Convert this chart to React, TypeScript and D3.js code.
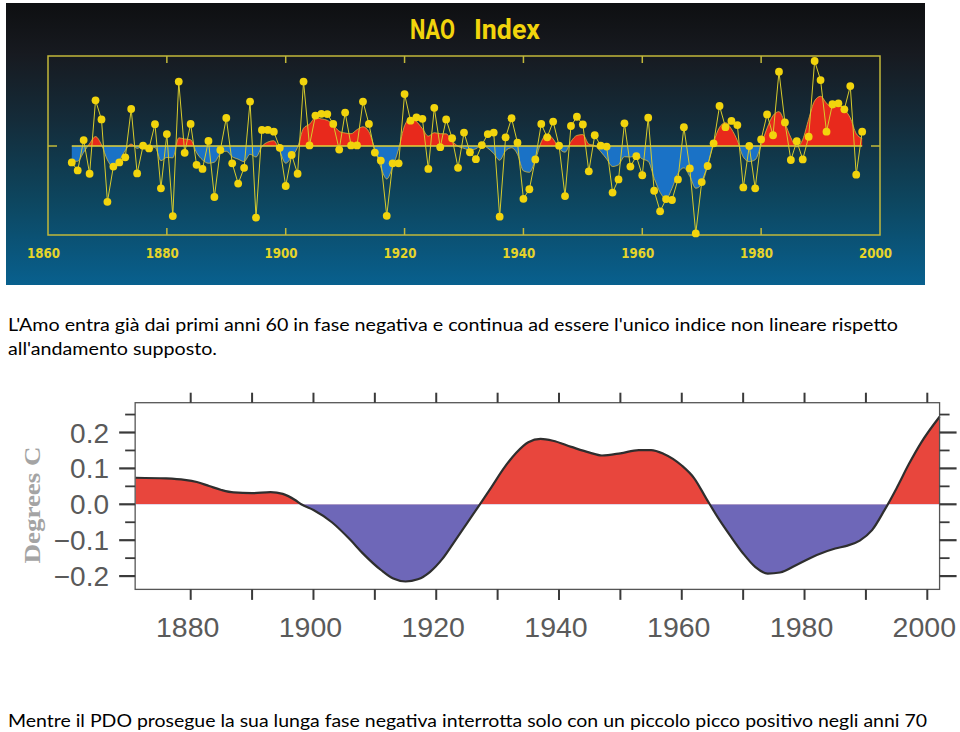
import React from "react";
import * as d3 from "d3";

// ---------- NAO (top panel) ----------
const naoStartYear = 1864;
const naoValues: number[] = [
  -0.55, -0.82, 0.2, -0.93, 1.53, 0.89, -1.87, -0.69, -0.55, -0.38,
  1.24, -0.92, 0.01, -0.08, 0.73, -1.42, 0.4, -2.35, 2.16, -0.23,
  0.74, -0.63, -0.77, 0.17, -1.71, -0.13, 0.94, -0.58, -1.26, -0.73,
  1.49, -2.4, 0.54, 0.54, 0.48, -0.06, -1.34, -0.3, -0.93, 2.16,
  0.02, 1.02, 1.08, 1.07, 0.74, -0.12, 1.12, 0.02, 0.02, 1.49,
  0.74, -0.22, -0.49, -2.34, -0.58, -0.58, 1.74, 0.85, 0.96, 0.91,
  -0.77, 1.28, -0.04, 0.89, 0.26, -0.73, 0.45, -0.21, -0.44, 0.03,
  0.4, 0.45, -2.37, 0.29, 0.93, 0.11, -1.77, -1.45, -0.45, 0.74,
  0.29, 0.82, 0.01, -1.68, 0.67, 0.98, 0.72, -0.85, 0.36, 0.01,
  -0.02, -1.56, -1.12, 0.76, -0.69, -0.34, -0.98, 0.95, -1.5, -2.19,
  -1.78, -1.81, -1.12, 0.63, -0.75, -2.93, -1.21, -0.67, 0.09, 1.34,
  0.63, 0.84, 0.7, -1.39, 0.0, -1.42, 0.22, 1.06, 0.36, 2.49,
  0.79, -0.47, 0.16, -0.45, 0.31, 2.85, 2.21, 0.48, 1.4, 1.43,
  1.23, 2.01, -0.96, 0.48,
];
const naoSmoothWeights = [1, 2, 3, 2, 1];
const naoTickYears = [1860, 1880, 1900, 1920, 1940, 1960, 1980, 2000];
const naoInnerTicks = [1880, 1900, 1920, 1940, 1960, 1980];
const naoTitleWords = ["NAO", "Index"];

// ---------- AMO (bottom panel) ----------
const amoYears = [
  1871, 1876, 1879, 1881, 1883, 1885, 1887, 1890, 1893, 1895, 1897, 1898,
  1900, 1903, 1906, 1908, 1911, 1913, 1915, 1917, 1919, 1921, 1923, 1925,
  1927, 1929, 1931, 1933, 1935, 1937, 1939, 1942, 1945, 1947, 1950, 1953,
  1955, 1957, 1960, 1962, 1964, 1966, 1968, 1970, 1972, 1974, 1976, 1979,
  1982, 1985, 1987, 1989, 1991, 1993, 1995, 1997, 1999, 2002,
];
const amoValues = [
  0.074, 0.072, 0.068, 0.062, 0.051, 0.04, 0.033, 0.031, 0.034, 0.029, 0.012, 0.0,
  -0.016, -0.05, -0.099, -0.136, -0.183, -0.207, -0.215, -0.209, -0.188, -0.152, -0.103, -0.053,
  -0.003, 0.048, 0.1, 0.143, 0.173, 0.182, 0.177, 0.16, 0.144, 0.136, 0.142, 0.151,
  0.151, 0.141, 0.108, 0.073, 0.016, -0.04, -0.09, -0.137, -0.175, -0.193, -0.19, -0.166,
  -0.141, -0.123, -0.115, -0.101, -0.072, -0.017, 0.045, 0.112, 0.172, 0.244,
];
const amoXLabels = [1880, 1900, 1920, 1940, 1960, 1980, 2000];
const amoDecades = [1880, 1890, 1900, 1910, 1920, 1930, 1940, 1950, 1960, 1970, 1980, 1990, 2000];
const amoYMajor = [0.2, 0.1, 0.0, -0.1, -0.2];
const amoYMinor = [0.25, 0.15, 0.05, -0.05, -0.15];
const amoYLabel = "Degrees  C";

// ---------- captions ----------
const captionTop = [
  "L'Amo entra già dai primi anni 60 in fase negativa e continua ad essere l'unico indice non lineare rispetto",
  "all'andamento supposto.",
];
const captionBottom =
  "Mentre il PDO prosegue la sua lunga fase negativa interrotta solo con un piccolo picco positivo negli anni 70";

export default function App() {
  // NAO scales
  const nx = d3.scaleLinear().domain([1860, 2000]).range([48, 880]);
  const ny = d3.scaleLinear().domain([-3, 3]).range([235.5, 56.5]);
  const naoData = naoValues.map((v, i) => ({ year: naoStartYear + i, v }));
  const naoSmooth = naoValues.map((_, i) => {
    let s = 0;
    let w = 0;
    naoSmoothWeights.forEach((wt, k) => {
      const j = i + k - 2;
      if (j >= 0 && j < naoValues.length) {
        s += wt * naoValues[j];
        w += wt;
      }
    });
    return { year: naoStartYear + i, v: s / w };
  });
  const naoArea = d3
    .area<{ year: number; v: number }>()
    .x((d) => nx(d.year))
    .y0(ny(0))
    .y1((d) => ny(d.v))
    .curve(d3.curveMonotoneX);
  const naoSmoothLine = d3
    .line<{ year: number; v: number }>()
    .x((d) => nx(d.year))
    .y((d) => ny(d.v))
    .curve(d3.curveMonotoneX);
  const naoLine = d3
    .line<{ year: number; v: number }>()
    .x((d) => nx(d.year))
    .y((d) => ny(d.v));
  const firstX = nx(naoStartYear);
  const lastX = nx(naoStartYear + naoValues.length - 1);

  // AMO scales
  const ax = d3.scaleLinear().domain([1880, 2000]).range([190.7, 927.3]);
  const ay = d3.scaleLinear().domain([0, 0.1]).range([504.3, 468.4]);
  const aLeft = ax(1870.95);
  const aRight = ax(2002);
  const aTop = ay(0.283);
  const aBottom = ay(-0.237);
  const amoData = amoYears.map((y, i) => ({ year: y, v: amoValues[i] }));
  const amoArea = d3
    .area<{ year: number; v: number }>()
    .x((d) => ax(d.year))
    .y0(ay(0))
    .y1((d) => ay(d.v))
    .curve(d3.curveMonotoneX);
  const amoLine = d3
    .line<{ year: number; v: number }>()
    .x((d) => ax(d.year))
    .y((d) => ay(d.v))
    .curve(d3.curveMonotoneX);

  const yellow = "#f2d40c";
  const frameYellow = "#c2b83a";
  const tickGray = "#3a3a3a";
  const labelGray = "#5a5a5a";

  return (
    <svg
      width={960}
      height={732}
      style={{ position: "absolute", left: 0, top: 0, background: "#fff" }}
    >
      <defs>
        <linearGradient id="naoBg" x1="0" y1="0" x2="0" y2="1">
          <stop offset="0%" stopColor="#0e0f11" />
          <stop offset="18%" stopColor="#171a20" />
          <stop offset="42%" stopColor="#142c3a" />
          <stop offset="70%" stopColor="#0d465f" />
          <stop offset="100%" stopColor="#08608e" />
        </linearGradient>
        <clipPath id="naoAbove">
          <rect x={48} y={56} width={832} height={ny(0) - 56} />
        </clipPath>
        <clipPath id="naoBelow">
          <rect x={48} y={ny(0)} width={832} height={235 - ny(0)} />
        </clipPath>
        <clipPath id="amoAbove">
          <rect x={aLeft} y={aTop} width={aRight - aLeft} height={ay(0) - aTop} />
        </clipPath>
        <clipPath id="amoBelow">
          <rect x={aLeft} y={ay(0)} width={aRight - aLeft} height={aBottom - ay(0)} />
        </clipPath>
      </defs>

      {/* ===== NAO panel ===== */}
      <rect x={6} y={3} width={919} height={282} fill="url(#naoBg)" />
      <text
        x={410}
        y={38.5}
        fill={yellow}
        fontFamily="Roboto, 'DejaVu Sans', sans-serif"
        fontWeight="bold"
        fontSize={27}
        textLength={45}
        lengthAdjust="spacingAndGlyphs"
      >
        {naoTitleWords[0]}
      </text>
      <text
        x={474}
        y={38.5}
        fill={yellow}
        fontFamily="Roboto, 'DejaVu Sans', sans-serif"
        fontWeight="bold"
        fontSize={27}
        textLength={66}
        lengthAdjust="spacingAndGlyphs"
      >
        {naoTitleWords[1]}
      </text>

      <rect x={48} y={56} width={832} height={179} fill="none" stroke={frameYellow} strokeWidth={1.5} />
      {naoInnerTicks.map((t) => (
        <g key={"nt" + t}>
          <line x1={nx(t)} x2={nx(t)} y1={56} y2={63} stroke={frameYellow} strokeWidth={1.5} />
          <line x1={nx(t)} x2={nx(t)} y1={235} y2={228} stroke={frameYellow} strokeWidth={1.5} />
        </g>
      ))}
      <line x1={48} x2={57} y1={ny(0)} y2={ny(0)} stroke={frameYellow} strokeWidth={1.5} />
      <line x1={871} x2={880} y1={ny(0)} y2={ny(0)} stroke={frameYellow} strokeWidth={1.5} />

      <path d={naoArea(naoSmooth) || ""} fill="#e8291c" clipPath="url(#naoAbove)" />
      <path d={naoArea(naoSmooth) || ""} fill="#1a72c6" clipPath="url(#naoBelow)" />
      <path d={naoSmoothLine(naoSmooth) || ""} fill="none" stroke="#e6c23a" strokeWidth={0.9} opacity={0.8} />
      <line x1={firstX} x2={lastX} y1={ny(0)} y2={ny(0)} stroke="#e2d23a" strokeWidth={1.6} />
      <path d={naoLine(naoData) || ""} fill="none" stroke="#d8cc2c" strokeWidth={1} />
      {naoData.map((d) => (
        <circle key={"p" + d.year} cx={nx(d.year)} cy={ny(d.v)} r={3.9} fill={yellow} />
      ))}
      {naoTickYears.map((t) => (
        <text
          key={"nl" + t}
          x={nx(t) - 4.6}
          y={258}
          textAnchor="middle"
          fill="#e6d42a"
          fontFamily="'DejaVu Sans', sans-serif"
          fontWeight="bold"
          fontSize={14}
          textLength={33}
          lengthAdjust="spacingAndGlyphs"
        >
          {t}
        </text>
      ))}

      {/* ===== captions ===== */}
      <text x={8} y={331} fill="#000" fontFamily="Lato, 'Open Sans', sans-serif" fontSize={17} textLength={890} lengthAdjust="spacingAndGlyphs">
        {captionTop[0]}
      </text>
      <text x={8} y={355} fill="#000" fontFamily="Lato, 'Open Sans', sans-serif" fontSize={17} textLength={209} lengthAdjust="spacingAndGlyphs">
        {captionTop[1]}
      </text>
      <text x={8} y={727} fill="#000" fontFamily="Lato, 'Open Sans', sans-serif" fontSize={17} textLength={919} lengthAdjust="spacingAndGlyphs">
        {captionBottom}
      </text>

      {/* ===== AMO panel ===== */}
      <path d={amoArea(amoData) || ""} fill="#e8463d" clipPath="url(#amoAbove)" />
      <path d={amoArea(amoData) || ""} fill="#6e67b8" clipPath="url(#amoBelow)" />
      <path d={amoLine(amoData) || ""} fill="none" stroke="#2e2e2e" strokeWidth={2.2} />
      <rect
        x={aLeft}
        y={aTop}
        width={aRight - aLeft}
        height={aBottom - aTop}
        fill="none"
        stroke="#555"
        strokeWidth={1.3}
      />
      {amoDecades.map((t) => (
        <g key={"ad" + t}>
          <line x1={ax(t)} x2={ax(t)} y1={aTop} y2={aTop - 10} stroke={tickGray} strokeWidth={2} />
          <line x1={ax(t)} x2={ax(t)} y1={aBottom} y2={aBottom + 10.5} stroke={tickGray} strokeWidth={2} />
        </g>
      ))}
      {amoYMajor.map((v) => (
        <g key={"ym" + v}>
          <line x1={aLeft} x2={aLeft - 16} y1={ay(v)} y2={ay(v)} stroke={tickGray} strokeWidth={2.2} />
          <line x1={aRight} x2={aRight + 17} y1={ay(v)} y2={ay(v)} stroke={tickGray} strokeWidth={2.2} />
        </g>
      ))}
      {amoYMinor.map((v) => (
        <g key={"yn" + v}>
          <line x1={aLeft} x2={aLeft - 10} y1={ay(v)} y2={ay(v)} stroke={tickGray} strokeWidth={1.8} />
          <line x1={aRight} x2={aRight + 10} y1={ay(v)} y2={ay(v)} stroke={tickGray} strokeWidth={1.8} />
        </g>
      ))}
      {amoYMajor.map((v) => (
        <text
          key={"yl" + v}
          x={109}
          y={ay(v) + 10}
          textAnchor="end"
          fill={labelGray}
          fontFamily="'Liberation Sans', Arial, sans-serif"
          fontSize={28}
        >
          {v < 0 ? "\u2212" + Math.abs(v).toFixed(1) : v.toFixed(1)}
        </text>
      ))}
      {amoXLabels.map((t) => (
        <text
          key={"xl" + t}
          x={ax(t) - 3}
          y={637}
          textAnchor="middle"
          fill={labelGray}
          fontFamily="'Liberation Sans', Arial, sans-serif"
          fontSize={28.5}
        >
          {t}
        </text>
      ))}
      <text
        transform={`translate(40, 505) rotate(-90)`}
        textAnchor="middle"
        fill="#a4a4a4"
        fontFamily="'Liberation Serif', 'DejaVu Serif', serif"
        fontWeight="bold"
        fontSize={24}
        textLength={117}
        lengthAdjust="spacingAndGlyphs"
      >
        {amoYLabel}
      </text>
    </svg>
  );
}
